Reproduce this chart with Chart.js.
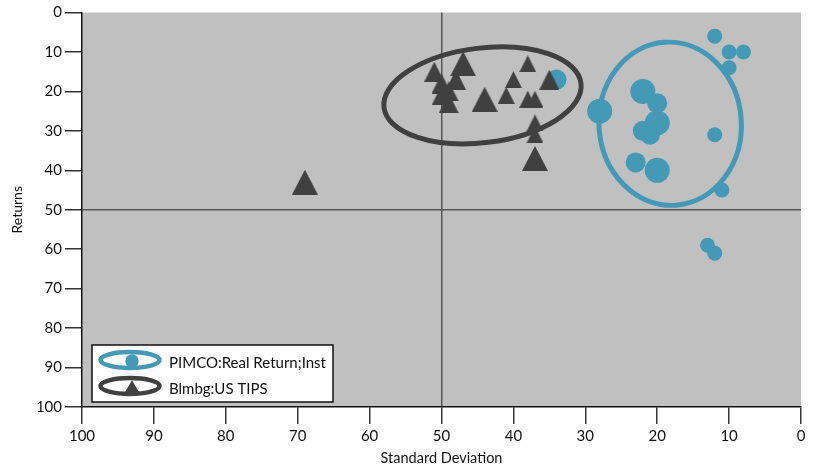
<!DOCTYPE html>
<html>
<head>
<meta charset="utf-8">
<script src="https://cdn.jsdelivr.net/npm/chart.js@4.4.0/dist/chart.umd.min.js"></script>
<style>
  html, body { margin: 0; padding: 0; background: #fff; }
  #wrap { width: 820px; height: 471px; }
</style>
</head>
<body>
<div id="wrap"><canvas id="myChart" width="820" height="471"></canvas></div>
<script>
var seriesNames = ["PIMCO:Real Return;Inst", "Blmbg:US TIPS"];

// fund: standard deviation rank / return rank, weight = marker size class
var pimcoStdDev = [12, 10, 8, 10, 22, 20, 20, 22, 21, 28, 23, 20, 12, 11, 13, 12, 34];
var pimcoReturns = [6, 10, 10, 14, 20, 23, 28, 30, 31, 25, 38, 40, 31, 45, 59, 61, 17];
var pimcoWeight = [1, 1, 1, 1, 3, 2, 3, 2, 2, 3, 2, 3, 1, 1, 1, 1, 2];

// benchmark
var tipsStdDev = [69, 51, 47, 48, 50, 49, 50, 49, 44, 40, 41, 38, 38, 37, 35, 37, 37, 37];
var tipsReturns = [43, 15, 13, 17, 18, 20, 21, 23, 22, 17, 21, 13, 22, 22, 17, 28, 31, 37];
var tipsWeight = [3, 2, 3, 2, 2, 2, 2, 2, 3, 1, 1, 1, 1, 1, 2, 1, 1, 3];

// ellipses: centre x, centre y, half-width, half-height (data units), tilt (deg)
var pimcoEllipse = [18.2, 28.2, 9.9, 20.7, -4];
var tipsEllipse = [44.3, 21.0, 13.8, 12.0, -7];

var tickValues = [0, 10, 20, 30, 40, 50, 60, 70, 80, 90, 100];

const BLUE = "#4399b6";
const DARK = "#404040";
const FONT = "Lato";

const circleRadius = { 1: 7.5, 2: 10, 3: 12.5 };
const triangleWidth = { 1: 17, 2: 20, 3: 26 };

function triangleSprite(w, color) {
  const c = document.createElement("canvas");
  const h = Math.round(w * 0.98);
  c.width = w;
  c.height = h;
  const g = c.getContext("2d");
  g.fillStyle = color;
  g.beginPath();
  g.moveTo(w / 2, 0);
  g.lineTo(w, h);
  g.lineTo(0, h);
  g.closePath();
  g.fill();
  return c;
}
const sprites = {};
Object.keys(triangleWidth).forEach(k => { sprites[k] = triangleSprite(triangleWidth[k], DARK); });

function toPoints(xs, ys) {
  return xs.map((x, i) => ({ x: x, y: ys[i] }));
}

// grey plotting area
const plotBg = {
  id: "plotBg",
  beforeDraw(chart) {
    const { ctx, chartArea: a } = chart;
    ctx.save();
    ctx.fillStyle = "#c0c0c0";
    ctx.fillRect(a.left, a.top, a.right - a.left, a.bottom - a.top);
    ctx.restore();
  },
};

function drawEllipse(chart, e, color) {
  const { ctx, scales } = chart;
  const cx = scales.x.getPixelForValue(e[0]);
  const cy = scales.y.getPixelForValue(e[1]);
  const rx = Math.abs(scales.x.getPixelForValue(e[0] + e[2]) - cx);
  const ry = Math.abs(scales.y.getPixelForValue(e[1] + e[3]) - cy);
  ctx.save();
  ctx.strokeStyle = color;
  ctx.lineWidth = 5;
  ctx.beginPath();
  ctx.ellipse(cx, cy, rx, ry, (e[4] * Math.PI) / 180, 0, Math.PI * 2);
  ctx.stroke();
  ctx.restore();
}

const ellipses = {
  id: "ellipses",
  beforeDatasetsDraw(chart) {
    drawEllipse(chart, pimcoEllipse, BLUE);
    drawEllipse(chart, tipsEllipse, DARK);
  },
};

// legend box inside the plot, bottom left
const legendBox = {
  id: "legendBox",
  afterDraw(chart) {
    const ctx = chart.ctx;
    const a = chart.chartArea;
    const left = a.left + 10, top = a.bottom - 62, w = 241, h = 57;
    ctx.save();
    ctx.fillStyle = "#fff";
    ctx.fillRect(left, top, w, h);
    ctx.strokeStyle = "#111";
    ctx.lineWidth = 1.5;
    ctx.strokeRect(left, top, w, h);

    const rows = [top + 15, top + 41];
    const colors = [BLUE, DARK];
    rows.forEach((y, i) => {
      const cx = left + 38;
      ctx.strokeStyle = colors[i];
      ctx.lineWidth = 4.5;
      ctx.beginPath();
      ctx.ellipse(cx, y, 29.5, 8, 0, 0, Math.PI * 2);
      ctx.stroke();
      ctx.fillStyle = colors[i];
      if (i === 0) {
        ctx.beginPath();
        ctx.arc(cx + 2, y + 1, 6.7, 0, Math.PI * 2);
        ctx.fill();
      } else {
        ctx.beginPath();
        ctx.moveTo(cx + 2, y - 6);
        ctx.lineTo(cx + 10, y + 8);
        ctx.lineTo(cx - 6, y + 8);
        ctx.closePath();
        ctx.fill();
      }
      ctx.fillStyle = "#111";
      ctx.font = "15px " + FONT;
      ctx.textBaseline = "middle";
      ctx.textAlign = "left";
      ctx.fillText(seriesNames[i], left + 77, y + 3);
    });
    ctx.restore();
  },
};

function axisGrid() {
  return {
    color: c => (c.tick && c.tick.value === 50 ? "#555" : "rgba(0,0,0,0)"),
    lineWidth: 1.5,
    tickColor: "#333",
    tickWidth: 1.5,
    tickLength: 17,
  };
}

const ctx = document.getElementById("myChart").getContext("2d");

const myChart = new Chart(ctx, {
  type: "scatter",
  data: {
    datasets: [
      {
        label: seriesNames[0],
        data: toPoints(pimcoStdDev, pimcoReturns),
        order: 2,
        pointStyle: "circle",
        pointRadius: c => circleRadius[pimcoWeight[c.dataIndex]] || 8,
        pointHoverRadius: c => circleRadius[pimcoWeight[c.dataIndex]] || 8,
        pointBackgroundColor: BLUE,
        pointBorderWidth: 0,
      },
      {
        label: seriesNames[1],
        data: toPoints(tipsStdDev, tipsReturns),
        order: 1,
        pointStyle: c => sprites[tipsWeight[c.dataIndex]] || sprites[1],
        pointRadius: 10,
        pointBackgroundColor: DARK,
        pointBorderWidth: 0,
      },
    ],
  },
  options: {
    responsive: false,
    animation: false,
    layout: { padding: { left: 0, right: 19, top: 10, bottom: 0 } },
    plugins: {
      legend: { display: false },
      tooltip: { enabled: false },
    },
    scales: {
      x: {
        type: "linear",
        reverse: true,
        min: 0,
        max: 100,
        afterBuildTicks: s => { s.ticks = tickValues.map(v => ({ value: v })); },
        afterFit: s => { s.height = 64; },
        grid: axisGrid(),
        border: { display: true, color: "#111", width: 1.5 },
        ticks: { color: "#111", font: { family: FONT, size: 15 }, padding: 3, maxRotation: 0 },
        title: {
          display: true,
          text: "Standard Deviation",
          color: "#111",
          font: { family: FONT, size: 14.5 },
          padding: { top: 0, bottom: 4 },
        },
      },
      y: {
        type: "linear",
        reverse: true,
        min: 0,
        max: 100,
        afterBuildTicks: s => { s.ticks = tickValues.map(v => ({ value: v })); },
        afterFit: s => { s.width = 82; },
        grid: axisGrid(),
        border: { display: true, color: "#111", width: 1.5 },
        ticks: { color: "#111", font: { family: FONT, size: 15 }, padding: 3 },
        title: {
          display: true,
          text: "Returns",
          color: "#111",
          font: { family: FONT, size: 14 },
          padding: { top: 9, bottom: 0 },
        },
      },
    },
  },
  plugins: [plotBg, ellipses, legendBox],
});
</script>
</body>
</html>
